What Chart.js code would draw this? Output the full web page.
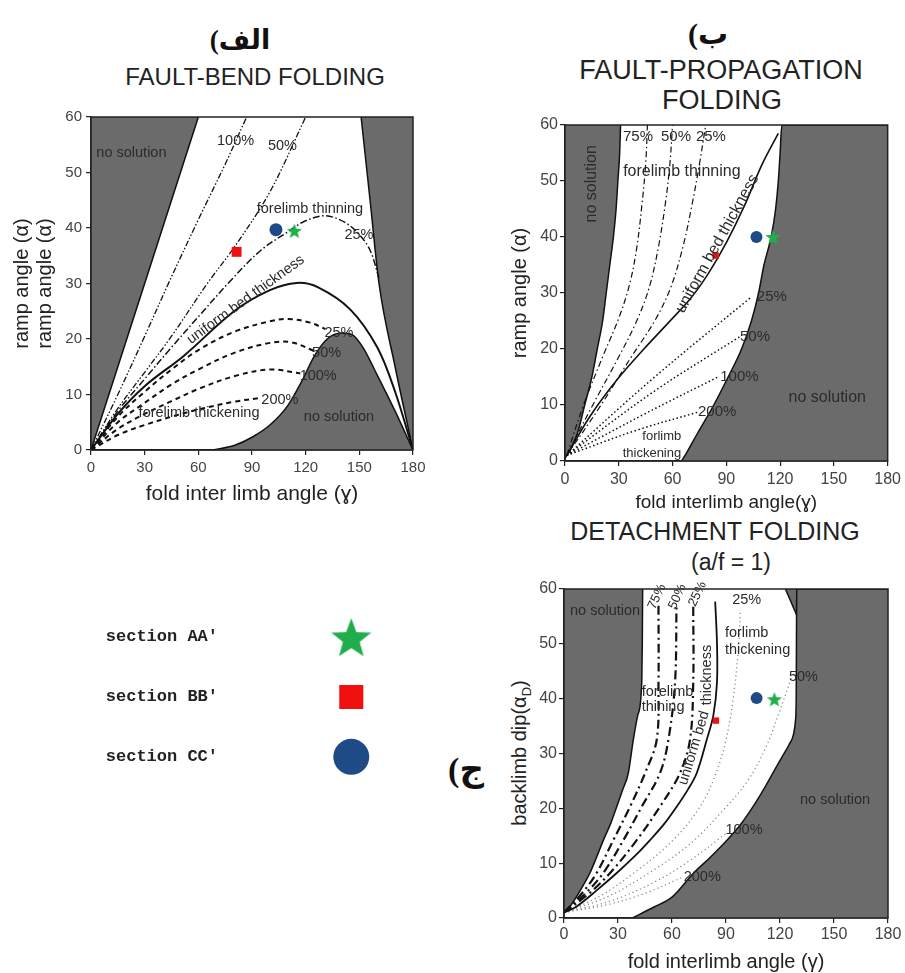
<!DOCTYPE html>
<html>
<head>
<meta charset="utf-8">
<script src="https://cdn.jsdelivr.net/npm/chart.js@4.4.1/dist/chart.umd.min.js"></script>
<style>
  html, body { margin: 0; padding: 0; background: #fff; }
  #page { position: relative; width: 905px; height: 973px; overflow: hidden;
          font-family: 'Liberation Sans', Arial, sans-serif; color: #222; }
  canvas { position: absolute; }
  .t { position: absolute; white-space: nowrap; transform: translate(-50%, -50%); line-height: 1; }
  .ar { font-family: 'Liberation Serif', 'DejaVu Sans', serif; font-weight: bold; color: #111; }
</style>
</head>
<body>
<div id="page">
  <div class="t ar" style="left:240px;top:40px;font-size:27px">(الف</div>
  <div class="t" style="left:255px;top:77px;font-size:24px">FAULT-BEND FOLDING</div>

  <div class="t ar" style="left:708px;top:34px;font-size:30px">(ب</div>
  <div class="t" style="left:721px;top:70px;font-size:27px">FAULT-PROPAGATION</div>
  <div class="t" style="left:722px;top:100px;font-size:27px">FOLDING</div>

  <div class="t" style="left:715px;top:531px;font-size:25px">DETACHMENT FOLDING</div>
  <div class="t" style="left:731px;top:562px;font-size:23px">(a/f = 1)</div>
  <div class="t ar" style="left:466px;top:770px;font-size:34px">(ج</div>
  <div class="t" style="left:521px;top:753px;font-size:20px;transform:translate(-50%,-50%) rotate(-90deg)">backlimb dip(α<sub style="font-size:13px">D</sub>)</div>

  <canvas id="chartA" width="450" height="520" style="left:0;top:0"></canvas>
  <canvas id="chartB" width="445" height="520" style="left:460px;top:0"></canvas>
  <canvas id="chartC" width="445" height="475" style="left:460px;top:500px"></canvas>
  <canvas id="legend" width="320" height="216" style="left:80px;top:589px"></canvas>
</div>
<script>
// (a) fault-bend folding
const fbLeftNoSol = [[0, 0], [30, 30], [60, 60]];
const fbRightNoSol = [[151, 60], [156, 45], [161, 30], [170, 15], [180, 0]];
const fbLowNoSol = [[68, 0], [80, 0.8], [90, 2.3], [100, 4.5], [110, 8], [118, 12.5], [125, 17], [132, 20], [140, 21.1], [146, 20.8], [152, 18.5], [160, 13.5], [170, 7], [180, 0]];
const fbUniform = [[0, 0], [15, 6.5], [30, 11.5], [52, 17], [80, 25], [100, 28.8], [115, 30.1], [127, 29.3], [145, 25.3], [160, 18.5], [170, 10.5], [180, 0]];
const fbThin100 = [[0, 0], [15, 10], [30, 20.5], [44, 30.5], [60, 41.5], [75, 51.5], [87, 60]];
const fbThin50 = [[0, 0], [15, 7.5], [30, 14], [45, 20.5], [65, 30], [80, 36.5], [100, 46.5], [120, 60]];
const fbThin25 = [[0, 0], [15, 7], [30, 12.8], [45, 18.5], [60, 24], [78, 30.5], [95, 36], [110, 39.3], [120, 41.3], [131, 42.2], [142, 41], [150, 38.8], [156, 36], [161, 31]];
const fbThick25 = [[0, 0], [15, 6], [30, 10.5], [45, 14.5], [60, 18], [80, 21.3], [100, 23.2], [110, 23.6], [122, 23], [131, 21.8]];
const fbThick50 = [[0, 0], [15, 5], [30, 8.5], [45, 11.8], [60, 14.5], [80, 17.5], [100, 19.3], [112, 19.4], [125, 17.8]];
const fbThick100 = [[0, 0], [15, 3.8], [30, 6.5], [45, 8.8], [60, 11], [80, 13.3], [100, 14.5], [117, 13.8]];
const fbThick200 = [[0, 0], [15, 2.7], [30, 4.5], [45, 6], [60, 7.3], [80, 8.7], [95, 9.4]];
const fbMarks = [[113.7, 39.5], [81.4, 35.7], [103.4, 39.7]]; // AA', BB', CC'

// (b) fault-propagation folding
const fpLeftNoSol = [[0, 0.5], [3, 2], [7, 5], [11, 10], [15, 15], [18, 20], [21, 25], [23, 30], [25, 35], [27, 40], [28.5, 45], [29.5, 50], [30.5, 55], [31, 60]];
const fpRightNoSol = [[65, 0], [67, 1], [74, 5], [83, 10], [91, 15], [98.5, 20], [104, 25], [108, 30], [111, 35], [115, 40], [117.5, 45], [119, 50], [120, 55], [121, 60], [180, 60]];
const fpUniform = [[1, 1], [14, 8], [29, 14.5], [44, 20], [58, 24.8], [70, 29], [80, 33.5], [90, 39], [100, 45.5], [110, 53], [119, 58.5]];
const fpThin75 = [[1, 1], [10, 9.7], [21, 18.6], [30, 25.5], [36, 31.5], [40, 38], [43, 46], [45, 53], [46, 60]];
const fpThin50 = [[1, 1], [15, 9.7], [30, 18.6], [40, 25], [47, 31], [52, 38], [56, 46], [58.5, 53], [60, 60]];
const fpThin25 = [[1, 1], [19.5, 9.7], [37, 18.6], [50, 25], [59, 31], [66, 38.5], [71, 46], [75, 53], [78.5, 60]];
const fpThick25 = [[1, 1], [50, 15], [104, 29.3]];
const fpThick50 = [[1, 1], [50, 12.5], [97.5, 22.2]];
const fpThick100 = [[1, 1], [45, 8.5], [86, 15.1]];
const fpThick200 = [[1, 1], [40, 5.5], [75, 8.8]];
const fpMarks = [[116.1, 40], [84, 36.7], [106.8, 40]];

// (c) detachment folding
const dfLeftNoSol = [[0, 1], [3.3, 2.1], [9, 5], [14.4, 8.2], [18, 11], [21.9, 14.2], [26, 17.3], [29.3, 20.3], [32.5, 23.3], [35.7, 26.4], [38.5, 32.5], [41, 37], [43.2, 43], [43.5, 50], [43.6, 55], [43.7, 60]];
const dfRightNoSol = [[38, 0], [50, 2], [60, 3.8], [72, 8.2], [81, 11], [90.5, 14.2], [98, 17], [105, 20.3], [111, 23.5], [116, 26.4], [121, 29.3], [125, 31.6], [127.5, 33.5], [128.6, 36], [129, 40], [129.2, 55.3], [129.3, 60], [180, 60]];
const dfRightTop = [[123, 60], [129.2, 55.3], [129.3, 60]];
const dfUniform = [[0, 1], [7, 2.1], [18, 5], [29.3, 8.2], [40, 11.5], [47.8, 14.2], [56, 17.3], [62.6, 20.3], [69, 23.5], [73.7, 26.4], [79.3, 32.5], [83, 37], [85, 43], [85, 50], [84, 57.7]];
const dfThin75 = [[0, 1], [10, 4.5], [18.1, 8.2], [27.4, 14.2], [36.7, 20.3], [45, 26.4], [51.5, 32.5], [52.5, 43], [52.5, 57]];
const dfThin50 = [[0, 1], [12, 4.5], [21.8, 8.2], [33, 14.2], [43.2, 20.3], [53.3, 26.4], [58, 32.5], [61.7, 43], [62.5, 57]];
const dfThin25 = [[0, 1], [14, 4.5], [25.6, 8.2], [40.4, 14.2], [53.3, 20.3], [64.4, 26.4], [70, 32.5], [71.8, 43], [71.8, 57]];
const dfThick25 = [[0, 1], [20, 4], [40, 8.5], [60, 14], [75, 20], [84, 26], [90, 32.5], [94, 40], [97, 49.5], [98, 56]];
const dfThick50 = [[0, 1], [25, 4], [50, 8.8], [70, 13.5], [88, 19.5], [102, 25], [112, 31], [119, 37], [125.6, 43.1]];
const dfThick100 = [[0, 1], [25, 3], [50, 6.5], [70, 10.5], [90.4, 15.5]];
const dfThick200 = [[0, 1], [25, 2.5], [45, 4.5], [66.3, 7.5]];
const dfMarks = [[116.9, 39.9], [84.4, 36], [107, 40.1]];

const sectionNames = ["section AA'", "section BB'", "section CC'"];

// text written inside the plots (data coordinates)
const fbNotes = [
  { text: 'no solution', x: 3, y: 53.6, align: 'left' },
  { text: '100%', x: 80.8, y: 55.6 },
  { text: '50%', x: 107, y: 54.8 },
  { text: 'forelimb thinning', x: 122.4, y: 43.4 },
  { text: '25%', x: 149.8, y: 38.7 },
  { text: 'uniform bed thickness', x: 86.5, y: 27.1, rot: -36 },
  { text: '25%', x: 138.6, y: 21.1 },
  { text: '50%', x: 131.7, y: 17.5 },
  { text: '100%', x: 127, y: 13.3 },
  { text: '200%', x: 105.6, y: 9.0 },
  { text: 'forelimb thickening', x: 60.4, y: 6.6 },
  { text: 'no solution', x: 138.6, y: 6.0 },
];
const fpNotes = [
  { text: 'no solution', x: 15, y: 49.5, rot: -90, size: 16 },
  { text: '75%', x: 40.7, y: 57.9 },
  { text: '50%', x: 61.9, y: 57.9 },
  { text: '25%', x: 81.4, y: 57.9 },
  { text: 'forelimb thinning', x: 65.2, y: 51.7, size: 16 },
  { text: 'uniform bed thickness', x: 85, y: 38.8, rot: -61, size: 16 },
  { text: '25%', x: 115.4, y: 29.3 },
  { text: '50%', x: 106, y: 22.2 },
  { text: '100%', x: 97.3, y: 15.1 },
  { text: '200%', x: 84.9, y: 8.8 },
  { text: 'no solution', x: 146.3, y: 11.25, size: 16 },
  { text: 'forlimb', x: 54, y: 4.3, size: 13 },
  { text: 'thickening', x: 48.5, y: 1.4, size: 13 },
];
const dfNotes = [
  { text: 'no solution', x: 22.8, y: 55.9 },
  { text: '75%', x: 51.7, y: 58.6, rot: -65, size: 13 },
  { text: '50%', x: 63, y: 58.6, rot: -65, size: 13 },
  { text: '25%', x: 74.2, y: 59.1, rot: -65, size: 13 },
  { text: '25%', x: 101.5, y: 58 },
  { text: 'forlimb', x: 89.4, y: 51.9, align: 'left' },
  { text: 'thickening', x: 89.4, y: 48.9, align: 'left' },
  { text: '50%', x: 133, y: 44 },
  { text: 'forelimb', x: 43.2, y: 41.3, align: 'left' },
  { text: 'thining', x: 43.2, y: 38.4, align: 'left' },
  { text: 'thickness', x: 79.3, y: 44.3, rot: -90 },
  { text: 'uniform bed', x: 72.2, y: 31, rot: -73 },
  { text: '100%', x: 100, y: 16 },
  { text: '200%', x: 76.8, y: 7.5 },
  { text: 'no solution', x: 150.6, y: 21.5 },
];

const GRAY = '#6b6b6b';
const INK = '#111';
const GREEN = '#1fae4b';
const RED = '#f01010';
const BLUE = '#1e4a86';

Chart.defaults.font.family = '"Liberation Sans", Arial, sans-serif';
Chart.defaults.color = '#444';

const pts = (arr) => arr.map(([x, y]) => ({ x, y }));

function makeStar(r, color) {
  const c = document.createElement('canvas');
  c.width = c.height = Math.ceil(r * 2 + 2);
  const g = c.getContext('2d');
  g.translate(c.width / 2, c.height / 2 + r * 0.1);
  g.beginPath();
  for (let i = 0; i < 10; i++) {
    const rr = i % 2 ? r * 0.42 : r;
    const a = -Math.PI / 2 + (i * Math.PI) / 5;
    g.lineTo(rr * Math.cos(a), rr * Math.sin(a));
  }
  g.closePath();
  g.fillStyle = color;
  g.fill();
  return c;
}

function area(data, fillTo, smooth) {
  return {
    data: pts(data), fill: fillTo, backgroundColor: GRAY, borderColor: INK, borderWidth: 1.5,
    pointRadius: 0, cubicInterpolationMode: smooth === false ? 'default' : 'monotone',
    tension: 0, order: 10,
  };
}

function curve(data, dash, width, color) {
  return {
    data: pts(data), fill: false, borderColor: color || INK, borderWidth: width, borderDash: dash,
    pointRadius: 0, tension: 0.35, order: 5,
  };
}

function marks(list, starR, squareR, circleR) {
  return [
    { data: pts([list[0]]), showLine: false, pointStyle: makeStar(starR, GREEN), pointRadius: starR, order: 0 },
    { data: pts([list[1]]), showLine: false, pointStyle: 'rect', pointRadius: squareR, backgroundColor: RED, borderWidth: 0, order: 0 },
    { data: pts([list[2]]), showLine: false, pointStyle: 'circle', pointRadius: circleR, backgroundColor: BLUE, borderWidth: 0, order: 0 },
  ];
}

const framePlugin = {
  id: 'frame',
  afterDatasetsDraw(chart) {
    const { ctx, chartArea: a } = chart;
    ctx.save();
    ctx.strokeStyle = '#222';
    ctx.lineWidth = 1.5;
    ctx.strokeRect(a.left, a.top, a.right - a.left, a.bottom - a.top);
    ctx.restore();
  },
};

function notesPlugin(items, baseSize) {
  return {
    id: 'notes',
    afterDraw(chart) {
      const { ctx, scales } = chart;
      items.forEach((n) => {
        ctx.save();
        ctx.translate(scales.x.getPixelForValue(n.x), scales.y.getPixelForValue(n.y));
        if (n.rot) ctx.rotate((n.rot * Math.PI) / 180);
        ctx.font = (n.size || baseSize) + 'px "Liberation Sans", Arial, sans-serif';
        ctx.fillStyle = '#2b2b2b';
        ctx.textAlign = n.align || 'center';
        ctx.textBaseline = 'middle';
        ctx.fillText(n.text, 0, 0);
        ctx.restore();
      });
    },
  };
}

function axes(o) {
  return {
    x: {
      type: 'linear', min: 0, max: 180,
      afterFit: (s) => { s.height = o.xh; },
      border: { color: '#222', width: 1.5 },
      grid: { drawOnChartArea: false, tickLength: 5, color: '#222', lineWidth: 1.2 },
      ticks: { stepSize: 30, padding: o.xpad, font: { size: o.tick }, maxRotation: 0, autoSkip: false },
      title: { display: true, text: o.xTitle, color: '#222', font: { size: o.xSize, lineHeight: 1.2 }, padding: { top: 0, bottom: o.xTitlePad } },
    },
    y: {
      type: 'linear', min: 0, max: 60,
      afterFit: (s) => { s.width = o.yw; },
      border: { color: '#222', width: 1.5 },
      grid: { drawOnChartArea: false, tickLength: 5, color: '#222', lineWidth: 1.2 },
      ticks: { stepSize: 10, padding: o.ypad, font: { size: o.tick } },
      title: o.yTitle
        ? { display: true, text: o.yTitle, color: '#222', font: { size: o.ySize, lineHeight: o.yLine }, padding: { top: o.yTitlePad, bottom: 0 } }
        : { display: false },
    },
  };
}

function baseOptions(padding, scales) {
  return {
    responsive: false,
    animation: false,
    layout: { padding },
    plugins: { legend: { display: false }, tooltip: { enabled: false } },
    scales,
  };
}

// (a)
new Chart(document.getElementById('chartA'), {
  type: 'line',
  data: {
    datasets: [
      ...marks(fbMarks, 8, 7, 6.5),
      curve(fbUniform, [], 2),
      curve(fbThin100, [6, 2, 1.5, 2, 1.5, 2], 1.3),
      curve(fbThin50, [6, 2, 1.5, 2, 1.5, 2], 1.3),
      curve(fbThin25, [7, 2.5, 1.5, 2.5], 1.5),
      curve(fbThick25, [5, 4], 2),
      curve(fbThick50, [5, 4], 2),
      curve(fbThick100, [5, 4], 2),
      curve(fbThick200, [5, 4], 2),
      area(fbLeftNoSol, 'end'),
      area(fbRightNoSol, 'end'),
      area(fbLowNoSol, 'start'),
    ],
  },
  options: baseOptions({ left: 0, right: 37, top: 117, bottom: 10 }, axes({
    xh: 60, yw: 91, tick: 15, xpad: 4, ypad: 4,
    xTitle: 'fold inter limb angle (ɣ)', xSize: 21, xTitlePad: 3.4,
    yTitle: ['ramp angle (α)', 'ramp angle (α)'], ySize: 20, yLine: 1.15, yTitlePad: 10.5,
  })),
  plugins: [framePlugin, notesPlugin(fbNotes, 14.5)],
});

// (b)
new Chart(document.getElementById('chartB'), {
  type: 'line',
  data: {
    datasets: [
      ...marks(fpMarks, 8, 4.5, 6),
      curve(fpUniform, [], 1.6),
      curve(fpThin75, [6, 3, 1.5, 3], 1.2),
      curve(fpThin50, [6, 3, 1.5, 3], 1.2),
      curve(fpThin25, [6, 3, 1.5, 3], 1.2),
      curve(fpThick25, [1.5, 2.5], 1.5),
      curve(fpThick50, [1.5, 2.5], 1.5),
      curve(fpThick100, [1.5, 2.5], 1.5),
      curve(fpThick200, [1.5, 2.5], 1.5),
      area(fpLeftNoSol, 'end'),
      area(fpRightNoSol, 'start'),
    ],
  },
  options: baseOptions({ left: 0, right: 17, top: 125, bottom: 4 }, axes({
    xh: 55, yw: 105, tick: 16, xpad: 4, ypad: 2,
    xTitle: 'fold interlimb angle(ɣ)', xSize: 19, xTitlePad: 1.6,
    yTitle: 'ramp angle (α)', ySize: 20, yLine: 1.2, yTitlePad: 48,
  })),
  plugins: [framePlugin, notesPlugin(fpNotes, 15)],
});

// (c)
new Chart(document.getElementById('chartC'), {
  type: 'line',
  data: {
    datasets: [
      ...marks(dfMarks, 8, 4.5, 6),
      curve(dfUniform, [], 1.8),
      curve(dfThin75, [9, 4, 2, 4], 2.2),
      curve(dfThin50, [9, 4, 2, 4], 2.2),
      curve(dfThin25, [9, 4, 2, 4], 2.2),
      curve(dfThick25, [1.2, 3], 1.3, '#8a8a8a'),
      curve(dfThick50, [1.2, 3], 1.3, '#8a8a8a'),
      curve(dfThick100, [1.2, 3], 1.3, '#8a8a8a'),
      curve(dfThick200, [1.2, 3], 1.3, '#8a8a8a'),
      area(dfLeftNoSol, 'end'),
      area(dfRightNoSol, 'start'),
      area(dfRightTop, 'end', false),
    ],
  },
  options: baseOptions({ left: 0, right: 17, top: 89, bottom: 0 }, axes({
    xh: 57, yw: 104, tick: 16, xpad: 2, ypad: 2,
    xTitle: 'fold interlimb angle (γ)', xSize: 20, xTitlePad: 1,
    yTitle: null,
  })),
  plugins: [framePlugin, notesPlugin(dfNotes, 14.5)],
});

// section legend
new Chart(document.getElementById('legend'), {
  type: 'scatter',
  data: {
    datasets: [
      { data: [{ x: 7.2, y: sectionNames[0] }], pointStyle: makeStar(21, GREEN), pointRadius: 21 },
      { data: [{ x: 7.2, y: sectionNames[1] }], pointStyle: 'rect', pointRadius: 17, backgroundColor: RED, borderWidth: 0 },
      { data: [{ x: 7.2, y: sectionNames[2] }], pointStyle: 'circle', pointRadius: 18, backgroundColor: BLUE, borderWidth: 0 },
    ],
  },
  options: {
    responsive: false,
    animation: false,
    layout: { autoPadding: false, padding: 0 },
    plugins: { legend: { display: false }, tooltip: { enabled: false } },
    scales: {
      x: { type: 'linear', min: 0, max: 10, display: false },
      y: {
        type: 'category', labels: sectionNames, offset: true,
        afterFit: (s) => { s.width = 146; },
        grid: { display: false, drawTicks: false },
        border: { display: false },
        ticks: { padding: 8, color: '#222', font: { family: '"Liberation Mono", "Courier New", monospace', size: 17, weight: 'bold' } },
      },
    },
  },
});
</script>
</body>
</html>
